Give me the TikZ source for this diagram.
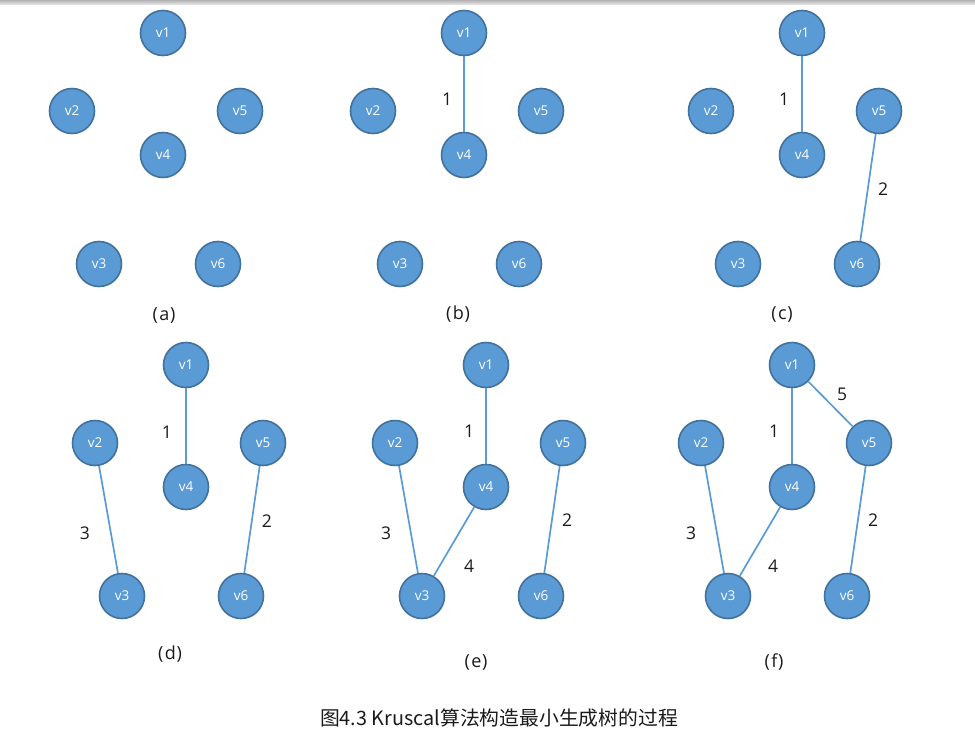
\documentclass[tikz,border=0pt]{standalone}
\usepackage{fontspec}
\usepackage{xcolor}
\usepackage{tikz}
\setmainfont{Open Sans}
\newfontfamily\cjkfont{Noto Sans CJK SC}
\definecolor{vfill}{HTML}{5B9BD5}
\definecolor{vline}{HTML}{41719C}
\definecolor{ink}{HTML}{1A1A1A}

\begin{document}
\begin{tikzpicture}[x=1pt, y=-1pt,
    vertex/.style={circle, fill=vfill, draw=vline, line width=1.6pt, minimum size=45pt, inner sep=0pt, text=white, font=\fontsize{13.5}{15}\selectfont},
    edge/.style={vfill, line width=1.7pt},
    weight/.style={ink, font=\fontsize{17.5}{20}\selectfont},
    panel/.style={ink, font=\fontsize{18}{21}\selectfont}]
    \useasboundingbox (0,0) rectangle (975,744);
    % window edge at the top
    \fill[top color=black!30, bottom color=black!12] (0,0) rectangle (975,4);
    % Six copies of the same graph, one per step.
    \foreach \p/\px/\py in {a/163/33, b/464/33, c/802/33, d/186/365, e/486/365, f/792/365} {
      \begin{scope}[shift={(\px,\py)}]
        \foreach \v/\vx/\vy in {1/0/0, 2/-91/78, 5/77/78, 4/0/122, 3/-64/231, 6/55/231} {
          \node[vertex] (\p\v) at (\vx,\vy) {v\v};
        }
      \end{scope}
    }
    % Edges taken so far, in order of weight.
    \foreach \p/\s/\t in {b/1/4, c/1/4, c/5/6, d/1/4, d/5/6, d/2/3,
        e/1/4, e/5/6, e/2/3, e/4/3, f/1/4, f/5/6, f/2/3, f/4/3, f/1/5} {
      \draw[edge] (\p\s) -- (\p\t);
    }
    % Weights.
    \foreach \n/\wx/\wy/\w in {b1/447/99/1, c1/784/99/1, c2/883/189/2,
        d1/167/432/1, d3/85/533/3, d2/267/521/2,
        e1/469/431/1, e3/386/533/3, e4/469/566/4, e2/567/520/2,
        f5/842/394/5, f1/774/431/1, f3/691/533/3, f4/773/566/4, f2/873/520/2} {
      \node[weight] (w\n) at (\wx,\wy) {\w};
    }
    % Panel letters.
    \foreach \p/\lx/\ly in {a/164/315, b/458/314, c/782/314, d/170/654, e/476/662, f/774/662} {
      \node[panel] (lab\p) at (\lx,\ly) {(\kern1.5pt\p\kern0.5pt)};
    }
    \node[ink, font=\cjkfont\fontsize{19.8}{23}\selectfont] (caption) at (499,718) {图4.3 Kruscal算法构造最小生成树的过程};
  \end{tikzpicture}
\end{document}
